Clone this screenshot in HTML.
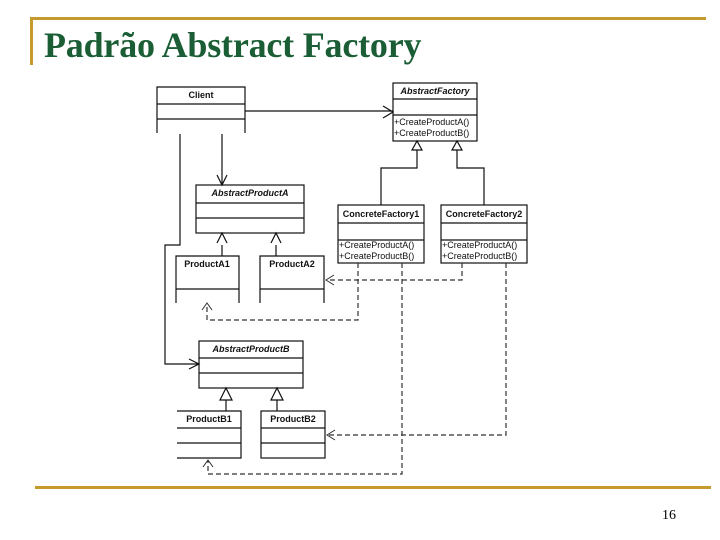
<!DOCTYPE html>
<html><head><meta charset="utf-8"><style>
body{margin:0;width:720px;height:540px;background:#fff;overflow:hidden;position:relative;font-family:"Liberation Sans",sans-serif}
.t{position:absolute;left:44px;top:25px;font-family:"Liberation Serif",serif;font-weight:bold;font-size:36px;line-height:40px;color:#1b5e35;letter-spacing:-0.2px;white-space:nowrap}
.pn{position:absolute;left:662px;top:508px;font-family:"Liberation Serif",serif;font-size:14px}
</style></head><body>
<div style="position:absolute;left:30px;top:17px;width:676px;height:3px;background:#c49a2c"></div>
<div style="position:absolute;left:30px;top:17px;width:3px;height:48px;background:#c49a2c"></div>
<div style="position:absolute;left:35px;top:486px;width:676px;height:3px;background:#c49a2c"></div>
<div class="t">Padrão Abstract Factory</div>
<div class="pn">16</div>
<svg width="720" height="540" style="position:absolute;left:0;top:0" font-family="Liberation Sans, sans-serif" font-size="9">
<g fill="none" stroke="#111" stroke-width="1.2">
<path d="M157 133V87H245V133M157 104H245M157 119H245"/>
<rect x="393" y="83" width="84" height="58"/><path d="M393 99H477M393 115H477"/>
<rect x="196" y="185" width="108" height="48"/><path d="M196 203H304M196 218H304"/>
<path d="M176 303V256H239V303M176 289H239"/>
<path d="M260 303V256H324V303M260 289H324"/>
<rect x="338" y="205" width="86" height="58"/><path d="M338 223H424M338 240H424"/>
<rect x="441" y="205" width="86" height="58"/><path d="M441 223H527M441 240H527"/>
<rect x="199" y="341" width="104" height="47"/><path d="M199 358H303M199 373H303"/>
<path d="M177 411H241V458H177M177 428H241M177 443H241"/>
<rect x="261" y="411" width="64" height="47"/><path d="M261 428H325M261 443H325"/>
<path d="M245 111H393M383 106L393 112L383 118"/>
<path d="M222 134V185M217 175L222 185L227 175"/>
<path d="M180 134V245H165V364H199M189 359L199 364L189 369"/>
<path d="M417 150V168H381V205M457 150V168H484V205"/>
<path d="M222 245V256M276 245V256M226 400V411M277 400V411"/>
<path d="M217 243L222 233L227 243M271 243L276 233L281 243"/>
</g>
<g fill="#fff" stroke="#111" stroke-width="1.2">
<path d="M412 150L417 141L422 150Z"/><path d="M452 150L457 141L462 150Z"/>
<path d="M220 400L226 388L232 400Z"/><path d="M271 400L277 388L283 400Z"/>
</g>
<g fill="none" stroke="#333" stroke-width="1.2" stroke-dasharray="5,3">
<path d="M462 263V280H326"/>
<path d="M358 263V320H207V304"/>
<path d="M506 263V435H327"/>
<path d="M402 263V474H208V461"/>
</g>
<g fill="none" stroke="#333" stroke-width="1">
<path d="M334 275L326 280L334 285M202 310L207 303L212 310M335 430L327 435L335 440M203 467L208 460L213 467"/>
</g>
<g fill="#111">
<text x="201" y="98" text-anchor="middle" font-weight="bold">Client</text>
<text x="435" y="94" text-anchor="middle" font-weight="bold" font-style="italic">AbstractFactory</text>
<text x="394" y="125">+CreateProductA()</text>
<text x="394" y="136">+CreateProductB()</text>
<text x="250" y="196" text-anchor="middle" font-weight="bold" font-style="italic">AbstractProductA</text>
<text x="207" y="267" text-anchor="middle" font-weight="bold">ProductA1</text>
<text x="292" y="267" text-anchor="middle" font-weight="bold">ProductA2</text>
<text x="381" y="217" text-anchor="middle" font-weight="bold">ConcreteFactory1</text>
<text x="484" y="217" text-anchor="middle" font-weight="bold">ConcreteFactory2</text>
<text x="339" y="248">+CreateProductA()</text>
<text x="339" y="259">+CreateProductB()</text>
<text x="442" y="248">+CreateProductA()</text>
<text x="442" y="259">+CreateProductB()</text>
<text x="251" y="352" text-anchor="middle" font-weight="bold" font-style="italic">AbstractProductB</text>
<text x="209" y="422" text-anchor="middle" font-weight="bold">ProductB1</text>
<text x="293" y="422" text-anchor="middle" font-weight="bold">ProductB2</text>
</g>
</svg>
</body></html>
